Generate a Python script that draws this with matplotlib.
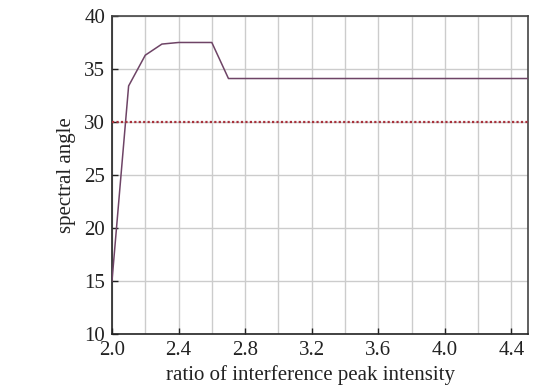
import matplotlib
matplotlib.use('Agg')
import matplotlib.pyplot as plt
from matplotlib.ticker import MultipleLocator

plt.rcParams['font.family'] = ['Liberation Serif', 'DejaVu Serif']

# spectral angle vs. interference peak ratio
ratio = [2.0, 2.1, 2.2, 2.3, 2.4, 2.5, 2.6, 2.7, 2.8, 3.0, 3.5, 4.0, 4.5]
angle = [15.0, 33.4, 36.3, 37.35, 37.5, 37.5, 37.5, 34.1, 34.1, 34.1, 34.1, 34.1, 34.1]
threshold = 30
xticks = [2.0, 2.4, 2.8, 3.2, 3.6, 4.0, 4.4]

fig = plt.figure(figsize=(5.35, 3.87), dpi=100)
ax = fig.add_axes([0.2093, 0.137, 0.7776, 0.8217])

ax.plot(ratio, angle, color='#6e4466', linewidth=1.1, zorder=3)
ax.axhline(threshold, color='#a8323c', linestyle=(0, (1, 1)), linewidth=1.6, zorder=3)

ax.set_xlim(2.0, 4.5)
ax.set_ylim(10, 40)
ax.xaxis.set_minor_locator(MultipleLocator(0.2))
ax.yaxis.set_major_locator(MultipleLocator(5))
ax.set_xticks(xticks)
ax.set_xticklabels([f'{t:.1f}' for t in xticks])

ax.grid(True, which='both', color='#cccccc', linewidth=1.0, zorder=0)
ax.set_axisbelow(True)
ax.tick_params(which='major', direction='in', length=4, width=1.0, labelsize=15,
               colors='#222222')
ax.tick_params(axis='y', pad=5)
ax.tick_params(axis='x', pad=5)
ax.tick_params(which='minor', length=0)

for side in ['left', 'bottom']:
    ax.spines[side].set_color('#222222')
    ax.spines[side].set_linewidth(1.2)
for side in ['top', 'right']:
    ax.spines[side].set_color('#444444')
    ax.spines[side].set_linewidth(1.2)

ax.set_xlabel('ratio of interference peak intensity', fontsize=15, color='#222222')
ax.xaxis.set_label_coords(0.477, -0.098)
ax.set_ylabel('spectral angle', fontsize=15, color='#222222', labelpad=6)

fig.savefig('out.png', dpi=100)
